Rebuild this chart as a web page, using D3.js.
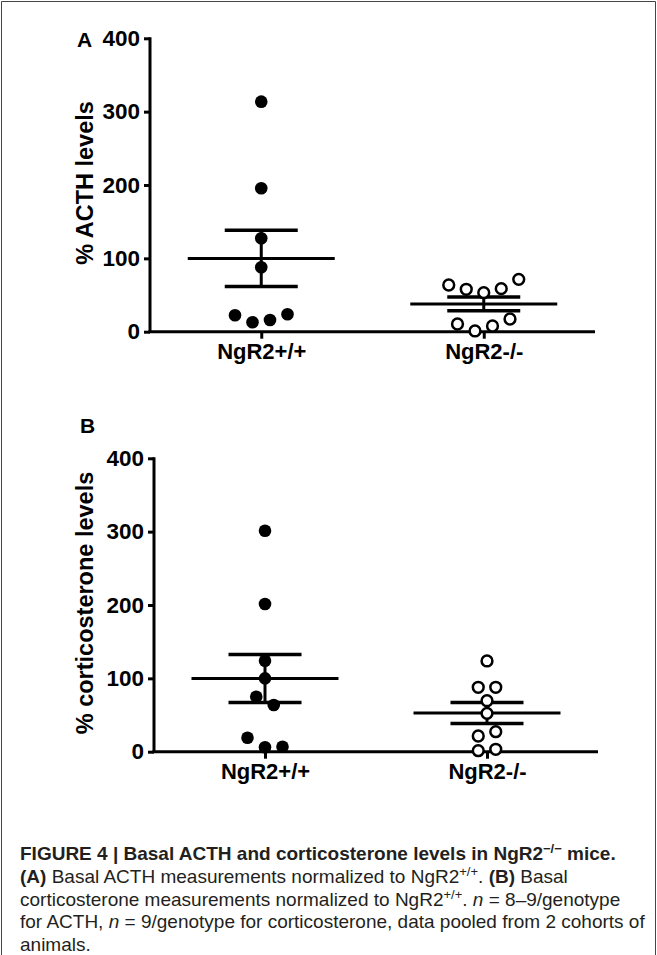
<!DOCTYPE html>
<html>
<head>
<meta charset="utf-8">
<script src="https://cdn.jsdelivr.net/npm/d3@7"></script>
<style>
  body { margin: 0; background: #fff; }
  svg text { font-family: "Liberation Sans", Arial, sans-serif; }
</style>
</head>
<body>
<div id="fig"></div>
<script>
// data (% of NgR2+/+ mean)
var groups = ["NgR2+/+", "NgR2-/-"];
var yTicks = [0, 100, 200, 300, 400];

var acthWT = [22.4, 12.8, 16, 23.7, 87.8, 127.4, 195.6, 313.6];
var acthKO = [63.7, 57.8, 53.2, 58.7, 71.4, 10.5, 1, 7.8, 17.3];
var corticoWT = [301.3, 201.4, 124.1, 100, 75, 63.7, 19.1, 6, 6.8];
var corticoKO = [123.7, 87.8, 87.8, 69.5, 52.3, 21.4, 27.3, 1.4, 3.3];

var W = 657, H = 955;

var svg = d3.select("#fig")
  .append("svg")
    .attr("width", W)
    .attr("height", H);

// frame round the figure
svg.append("path")
  .attr("d", "M1.5," + H + "V1.5H655.5V" + H)
  .attr("fill", "none")
  .attr("stroke", "#444")
  .attr("stroke-width", 1);

// mean and SEM
function stats(v) {
  var m = d3.mean(v);
  var sem = d3.deviation(v) / Math.sqrt(v.length);
  return {mean: m, sem: sem};
}

// spread points that sit at the same height side by side, Prism style
function swarm(v, y, gap, step) {
  var idx = v.map(function(d, i) { return i; })
    .sort(function(a, b) { return y(v[a]) - y(v[b]); });
  var off = new Array(v.length).fill(0);
  var clusters = [], cur = [idx[0]];
  for (var k = 1; k < idx.length; k++) {
    if (Math.abs(y(v[idx[k]]) - y(v[idx[k - 1]])) < gap) cur.push(idx[k]);
    else { clusters.push(cur); cur = [idx[k]]; }
  }
  clusters.push(cur);
  clusters.forEach(function(c) {
    c.sort(function(a, b) { return a - b; });
    c.forEach(function(i, j) { off[i] = (j - (c.length - 1) / 2) * step; });
  });
  return off;
}

function panel(opt) {
  var g = svg.append("g");

  var x = d3.scalePoint()
    .domain(groups)
    .range([opt.x0, opt.x1])
    .padding(0.5);

  var y = d3.scaleLinear()
    .domain([0, 400])
    .range([opt.y0, opt.y1]);

  // y axis
  var ya = g.append("g")
    .attr("transform", "translate(" + opt.x0 + ",0)")
    .call(d3.axisLeft(y).tickValues(yTicks).tickSize(6).tickSizeOuter(0).tickPadding(4));
  ya.select(".domain").attr("stroke-width", 3).attr("d", "M0," + (opt.y1 - 1) + "V" + opt.y0);
  ya.selectAll(".tick line").attr("stroke-width", 3);
  ya.selectAll(".tick text")
    .attr("font-size", 22.5).attr("font-weight", "bold")
    .attr("font-family", "'Liberation Sans', Arial, sans-serif")
    .attr("fill", "#000");

  // x axis
  var xa = g.append("g")
    .attr("transform", "translate(0," + opt.y0 + ")")
    .call(d3.axisBottom(x).tickSize(7).tickSizeOuter(0).tickPadding(5));
  xa.select(".domain").attr("stroke-width", 3).attr("d", "M" + (opt.x0 - 1.5) + ",0H" + opt.x1);
  xa.selectAll(".tick line").attr("stroke-width", 3);
  xa.selectAll(".tick text")
    .attr("font-size", 22).attr("font-weight", "bold")
    .attr("font-family", "'Liberation Sans', Arial, sans-serif")
    .attr("fill", "#000");

  // axis title
  g.append("text")
    .attr("transform", "translate(93," + ((opt.y0 + opt.y1) / 2 - 2) + ") rotate(-90)")
    .attr("text-anchor", "middle")
    .attr("font-size", 23.5)
    .attr("font-weight", "bold")
    .text(opt.title);

  // panel letter
  g.append("text")
    .attr("x", opt.lx).attr("y", opt.ly)
    .attr("font-size", 21)
    .attr("font-weight", "bold")
    .text(opt.letter);

  opt.series.forEach(function(v, si) {
    var cx = x(groups[si]);
    var s = stats(v);
    var off = swarm(v, y, 12, 17.5);

    // mean line
    g.append("line")
      .attr("x1", cx - 73.5).attr("x2", cx + 73.5)
      .attr("y1", y(s.mean)).attr("y2", y(s.mean))
      .attr("stroke", "#000").attr("stroke-width", 3);
    // SEM
    g.append("line")
      .attr("x1", cx).attr("x2", cx)
      .attr("y1", y(s.mean + s.sem)).attr("y2", y(s.mean - s.sem))
      .attr("stroke", "#000").attr("stroke-width", 3);
    [s.mean + s.sem, s.mean - s.sem].forEach(function(val) {
      g.append("line")
        .attr("x1", cx - 36.5).attr("x2", cx + 36.5)
        .attr("y1", y(val)).attr("y2", y(val))
        .attr("stroke", "#000").attr("stroke-width", 3.5);
    });

    g.selectAll(".pt" + si)
      .data(v)
      .enter()
      .append("circle")
        .attr("cx", function(d, i) { return cx + off[i]; })
        .attr("cy", function(d) { return y(d); })
        .attr("r", si === 0 ? 6.3 : 5.4)
        .attr("fill", si === 0 ? "#000" : "#fff")
        .attr("stroke", "#000")
        .attr("stroke-width", si === 0 ? 0 : 2.5);
  });
}

panel({x0: 150, x1: 595, y0: 331.7, y1: 38.3, letter: "A", lx: 77, ly: 47,
       title: "% ACTH levels", series: [acthWT, acthKO]});
panel({x0: 154, x1: 598, y0: 751.7, y1: 458.3, letter: "B", lx: 80, ly: 433,
       title: "% corticosterone levels", series: [corticoWT, corticoKO]});

// caption
var cap = svg.append("text")
  .attr("x", 20)
  .attr("font-size", 19)
  .attr("fill", "#231f20");

var lines = [
  [["FIGURE 4 | Basal ACTH and corticosterone levels in NgR2", "b"], ["\u2212/\u2212", "bs"], [" mice.", "b"]],
  [["(A)", "b"], [" Basal ACTH measurements normalized to NgR2", ""], ["+/+", "s"], [". ", ""], ["(B)", "b"], [" Basal", ""]],
  [["corticosterone measurements normalized to NgR2", ""], ["+/+", "s"], [". ", ""], ["n", "i"], [" = 8\u20139/genotype", ""]],
  [["for ACTH, ", ""], ["n", "i"], [" = 9/genotype for corticosterone, data pooled from 2 cohorts of", ""]],
  [["animals.", ""]]
];
var base = 860, lead = 22.8;
lines.forEach(function(ln, li) {
  ln.forEach(function(part, pi) {
    var t = cap.append("tspan").text(part[0]);
    if (pi === 0) t.attr("x", 20).attr("y", base + li * lead);
    if (part[1].indexOf("b") >= 0) t.attr("font-weight", "bold");
    if (part[1].indexOf("i") >= 0) t.attr("font-style", "italic");
    if (part[1].indexOf("s") >= 0) {
      t.attr("font-size", 13).attr("dy", -7);
      // next piece comes back to the baseline
      if (ln[pi + 1]) ln[pi + 1].push("down");
    }
    if (part[2] === "down") t.attr("dy", 7);
  });
});
</script>
</body>
</html>
